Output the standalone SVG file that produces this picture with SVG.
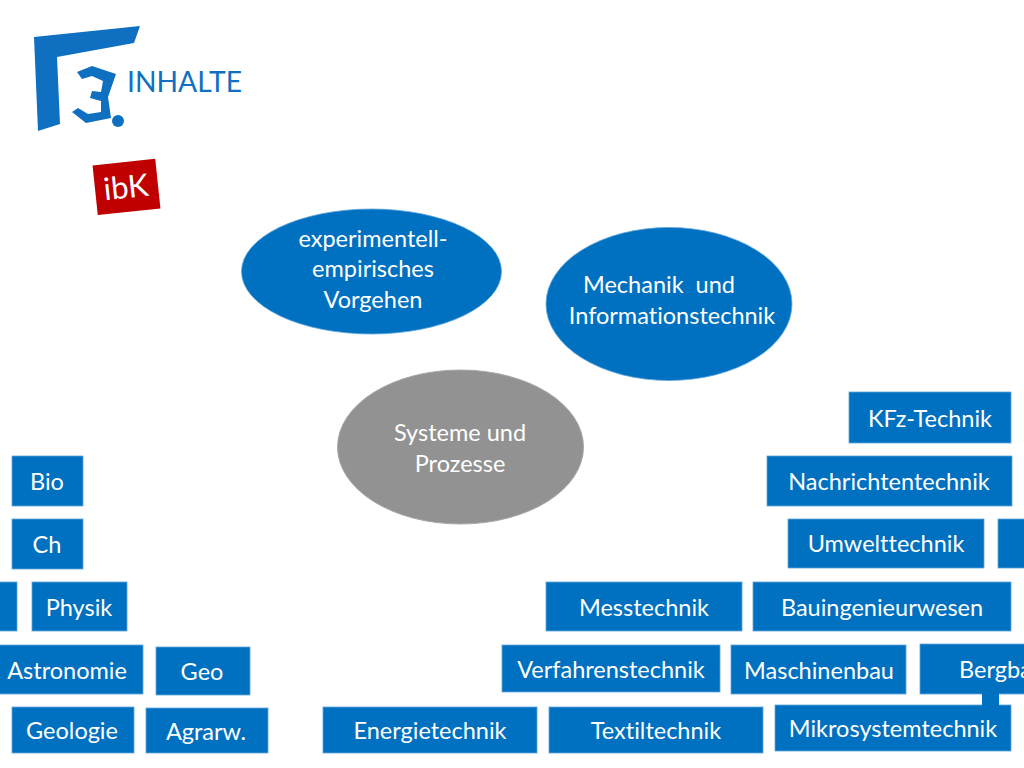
<svg xmlns="http://www.w3.org/2000/svg" width="1024" height="768" viewBox="0 0 1024 768">
<style>
text{font-family:Lato,"Liberation Sans",sans-serif;font-size:23.500px;fill:#fff;text-anchor:middle;font-variant-ligatures:none;white-space:pre}
.b{fill:#0070c0;stroke:#5fa5dc;stroke-width:.8}
.e{fill:#0070c0;stroke:#5fa5dc;stroke-width:.8}
</style>
<rect width="1024" height="768" fill="#fff"/>
<g id="logo" fill="#0f6fc0">
<polygon points="34,37 140,26 134,43 57,57 60,124 38,131"/>
<polygon points="77,72 92,66 116,74 108,97 111,118 86,123 72,112 78,108 88,114 101,112 101,101 90,98 92,91 101,92 103,81 92,76 82,79"/>
<circle cx="118" cy="121" r="6"/>
</g>
<text id="title" x="184.500" y="92" style="font-size:29px;fill:#0f6fc0" textLength="115" lengthAdjust="spacingAndGlyphs">INHALTE</text>
<g id="ibk" transform="rotate(-6 126 187)"><rect x="95" y="162" width="63" height="50" fill="#c00000"/><text x="126" y="198" style="font-size:31px">ibK</text></g>
<g id="n1"><ellipse class="e" cx="371.500" cy="271.500" rx="130" ry="62.500"/><text x="373" y="247">experimentell-</text><text x="373" y="277">empirisches</text><text x="373" y="308">Vorgehen</text></g>
<g id="n2"><ellipse class="e" cx="669" cy="304" rx="123" ry="76.500"/><text x="659" y="293">Mechanik  und</text><text x="672" y="324">Informationstechnik</text></g>
<g id="n3"><ellipse cx="460.500" cy="447" rx="123" ry="77" fill="#929292" stroke="#a8a8a8"/><text x="460" y="441">Systeme und</text><text x="460" y="472">Prozesse</text></g>
<g id="kfz"><rect class="b" x="849" y="392" width="162" height="51"/><text x="930" y="427">KFz-Technik</text></g>
<g id="nach"><rect class="b" x="767" y="456" width="245" height="50"/><text x="889" y="490">Nachrichtentechnik</text></g>
<g id="umw"><rect class="b" x="788" y="519" width="196" height="49"/><text x="886" y="552">Umwelttechnik</text></g>
<g id="partial"><rect class="b" x="998" y="519" width="30" height="49"/></g>
<g id="bau"><rect class="b" x="753" y="582" width="258" height="49"/><text x="882" y="616">Bauingenieurwesen</text></g>
<g id="mess"><rect class="b" x="546" y="582" width="196" height="49"/><text x="644" y="616">Messtechnik</text></g>
<g id="verf"><rect class="b" x="502" y="645" width="218" height="47"/><text x="611" y="678">Verfahrenstechnik</text></g>
<g id="masch"><rect class="b" x="731" y="645" width="175" height="49"/><text x="819" y="679">Maschinenbau</text></g>
<g id="berg"><rect class="b" x="920" y="644" width="110" height="50"/><text x="959" y="678" style="text-anchor:start">Bergbau</text></g>
<g id="mikro"><rect class="b" x="775" y="705" width="236" height="46"/><text x="893" y="737">Mikrosystemtechnik</text></g>
<g id="connectors"><rect x="982" y="693" width="17" height="13" fill="#0070c0"/></g>
<g id="textil"><rect class="b" x="549" y="707" width="214" height="46"/><text x="656" y="739">Textiltechnik</text></g>
<g id="ener"><rect class="b" x="323" y="707" width="214" height="46"/><text x="430" y="739">Energietechnik</text></g>
<g id="bio"><rect class="b" x="12" y="456" width="71" height="50"/><text x="47" y="490">Bio</text></g>
<g id="ch"><rect class="b" x="12" y="519" width="71" height="50"/><text x="47" y="553">Ch</text></g>
<g id="partial2"><rect class="b" x="-10" y="582" width="27" height="49"/></g>
<g id="phys"><rect class="b" x="32" y="582" width="95" height="49"/><text x="79" y="616">Physik</text></g>
<g id="astro"><rect class="b" x="-10" y="645" width="153" height="49"/><text x="67" y="679">Astronomie</text></g>
<g id="geo"><rect class="b" x="156" y="647" width="94" height="48"/><text x="202" y="680">Geo</text></g>
<g id="geol"><rect class="b" x="12" y="707" width="122" height="46"/><text x="72" y="739">Geologie</text></g>
<g id="agrar"><rect class="b" x="146" y="708" width="122" height="45"/><text x="206" y="740">Agrarw.</text></g>
</svg>
